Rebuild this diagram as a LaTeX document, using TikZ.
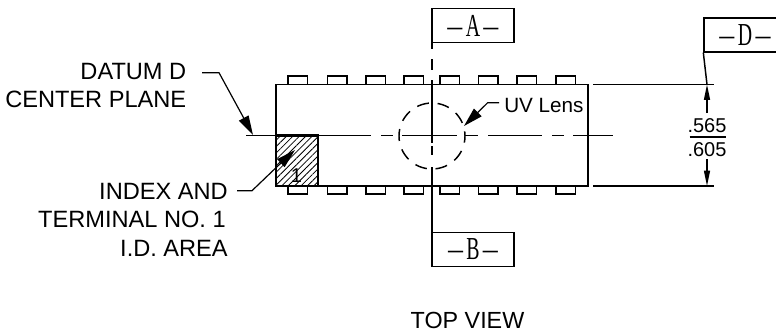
\documentclass[tikz,border=0pt]{standalone}
\usepackage{fontspec}
\setmainfont{Liberation Sans}
\newfontfamily\datumfont{Liberation Serif}
\usetikzlibrary{arrows.meta,patterns.meta}
\tikzset{
	part/.style={line width=1.1pt},
	leader/.style={line width=0.9pt, -{Triangle[length=14.5pt,width=8pt]}},
	dimtip/.style={line width=0.9pt, -{Triangle[length=11.5pt,width=4.5pt]}},
	datumbox/.style={draw, line width=1pt, minimum width=61.5pt, minimum height=25.5pt, inner sep=0pt, font=\datumfont\fontsize{24}{24}\selectfont},
	callout/.style={anchor=east, inner sep=0pt, font=\fontsize{17.7}{17.7}\selectfont}
}
\newcommand{\datumdash}{\scalebox{0.47}[1]{—}}
\newcommand{\datumtext}[1]{\datumdash\kern2.5pt\scalebox{0.62}[1]{#1}\kern2.5pt\datumdash}

\begin{document}
\begin{tikzpicture}[x=0.75pt, y=-0.75pt]
			\useasboundingbox (0, 0) rectangle (776, 333);
			\clip (0, 0) rectangle (776, 333);

			%%%%% BODY %%%%%
			\draw[part] (276, 84.5) rectangle (588, 186);
			\foreach \x in {288, 327.5, 366, 404, 440, 478.5, 517, 556} {
				\draw[part] (\x, 84.5) -- (\x, 76) -- (\x+19.5, 76) -- (\x+19.5, 84.5);
				\draw[part] (\x, 186) -- (\x, 194) -- (\x+19.5, 194) -- (\x+19.5, 186);
			}

			%%%%% INDEX AREA %%%%%
			\draw[line width=1.7pt, pattern={Lines[angle=45, distance=3.4pt, line width=0.6pt]}] (276, 135.5) rectangle (318, 186);
			\node[inner sep=0pt, font=\fontsize{15}{15}\selectfont] (one) at (296.5, 176) {1};

			%%%%% CENTER LINES %%%%%
			\foreach \a/\b in {246/371, 381/393, 402/457, 465/478, 488/542, 552/564, 573/613}
				\draw[part] (\a, 135.5) -- (\b, 135.5);
			\foreach \a/\b in {42.5/49, 59/70, 80/143, 146/155, 167/232}
				\draw[part] (432, \a) -- (432, \b);
			\draw[part, dash pattern=on 9pt off 6.6pt, dash phase=4pt] (432, 136) circle (33);

			%%%%% DATUM BOXES %%%%%
			\node[datumbox] (boxA) at (473, 25.5) {\datumtext{A}};
			\node[datumbox] (boxB) at (473, 249.5) {\datumtext{B}};
			\node[datumbox] (boxD) at (745, 35) {\datumtext{D}};

			%%%%% DIMENSION %%%%%
			\coordinate (topext) at (593, 84.5);
			\coordinate (botext) at (593, 186);
			\draw[part] (topext) -- (714, 84.5);
			\draw[part] (botext) -- (714, 186);
			\draw[part] (boxD.south west) -- (707, 84.5);
			\node[inner sep=0pt, font=\fontsize{15}{15}\selectfont] (dimtop) at (707, 125.5) {.565};
			\node[inner sep=0pt, font=\fontsize{15}{15}\selectfont] (dimbot) at (707, 150) {.605};
			\draw[part] (689.5, 137) -- (726, 137);
			\draw[dimtip] (707, 113) -- (707, 84.5);
			\draw[dimtip] (707, 159) -- (707, 186);

			%%%%% LABELS %%%%%
			\node[callout] (datum) at (186.5, 71) {DATUM D};
			\node[callout] (plane) at (186.5, 99) {CENTER PLANE};
			\node[callout] (index) at (228, 191) {INDEX AND};
			\node[callout] (terminal) at (226, 219) {TERMINAL NO. 1};
			\node[callout] (area) at (228, 248) {I.D. AREA};
			\node[anchor=west, inner sep=0pt, font=\fontsize{15.5}{15.5}\selectfont] (lens) at (504, 105) {UV Lens};
			\node[inner sep=0pt, font=\fontsize{17.5}{17.5}\selectfont] (view) at (467.5, 320) {TOP VIEW};

			\coordinate (datumtip) at (253, 135);
			\coordinate (indexedge) at (276, 167.7);
			\coordinate (indextip) at (295, 150);
			\coordinate (lenstip) at (464, 126);

			\draw[leader] (202, 72.7) -- (219, 72.7) -- (datumtip);
			\draw[line width=0.9pt] (237, 190.7) -- (252, 190.7) -- (indexedge);
			\draw[leader] (indexedge) -- (indextip);
			\draw[leader] (499, 102.7) -- (487.7, 102.7) -- (lenstip);
\end{tikzpicture}
\end{document}
